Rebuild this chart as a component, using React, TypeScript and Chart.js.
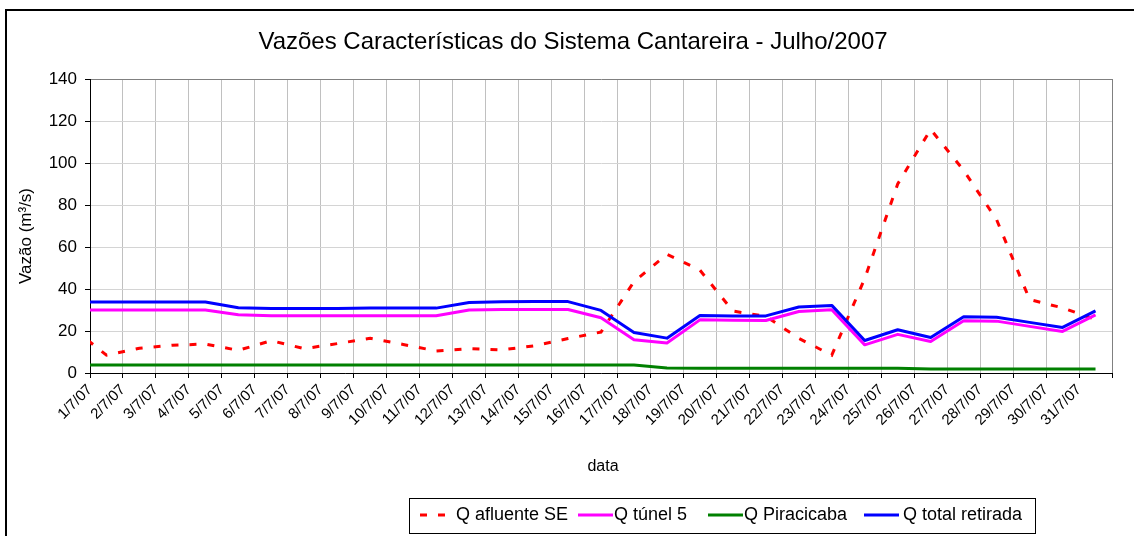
import React, { useEffect, useRef } from "react";
import { Chart, registerables } from "chart.js";

Chart.register(...registerables);

// Tick labels of the category (date) axis
const dateLabels = [
  "1/7/07", "2/7/07", "3/7/07", "4/7/07", "5/7/07", "6/7/07", "7/7/07", "8/7/07",
  "9/7/07", "10/7/07", "11/7/07", "12/7/07", "13/7/07", "14/7/07", "15/7/07", "16/7/07",
  "17/7/07", "18/7/07", "19/7/07", "20/7/07", "21/7/07", "22/7/07", "23/7/07", "24/7/07",
  "25/7/07", "26/7/07", "27/7/07", "28/7/07", "29/7/07", "30/7/07", "31/7/07",
];

// Series values: first entry is 30/6/07 (only its segment toward 1/7 shows), then 1/7 .. 31/7
const qAfluenteSE = [
  21, 8.5, 11.8, 13.2, 13.8, 10.8, 15.4, 11.6, 14, 16.5, 13.6, 10.5, 11.6, 11, 13, 16.4,
  19.5, 43.5, 56.5, 49, 29.5, 27, 16.5, 8.5, 45, 90, 116, 96.5, 73, 35, 31, 25.5,
];
const qTunel5 = [
  30, 30, 30, 30, 30, 27.7, 27.3, 27.3, 27.3, 27.3, 27.3, 27.3, 30, 30.2, 30.2, 30.2,
  26.3, 15.8, 14.3, 25.3, 25.1, 25, 29.3, 30.1, 13.4, 18.4, 15, 24.9, 24.7, 22.2, 19.8, 27.7,
];
const qPiracicaba = [
  3.8, 3.8, 3.8, 3.8, 3.8, 3.8, 3.8, 3.8, 3.8, 3.8, 3.8, 3.8, 3.8, 3.8, 3.8, 3.8,
  3.8, 3.8, 2.4, 2.3, 2.3, 2.3, 2.3, 2.3, 2.3, 2.3, 1.9, 1.9, 1.9, 1.9, 1.9, 1.9,
];
const qTotalRetirada = [
  33.8, 33.8, 33.8, 33.8, 33.8, 31.1, 30.7, 30.7, 30.7, 30.9, 30.9, 30.9, 33.6, 33.9, 34, 34,
  29.8, 19.3, 16.6, 27.4, 27.2, 27.2, 31.4, 32.2, 15.5, 20.6, 16.9, 26.8, 26.5, 24.1, 21.7, 29.6,
];

const seriesNames = ["Q afluente SE", "Q túnel 5", "Q Piracicaba", "Q total retirada"];
const seriesColors = ["#ff0000", "#ff00ff", "#008000", "#0000ff"];

const yMin = 0;
const yMax = 140;
const yStep = 20;

const titleText = "Vazões Características do Sistema Cantareira - Julho/2007";
const yTitle = "Vazão (m³/s)";
const xTitle = "data";

const FONT = "'Liberation Sans', Arial, Helvetica, sans-serif";

const toPoints = (vals: number[]) => vals.map((v, i) => ({ x: i - 0.5, y: v }));

const decorPlugin = {
  id: "decor",
  beforeDraw(chart: any) {
    const ctx = chart.ctx;
    ctx.save();
    ctx.fillStyle = "#ffffff";
    ctx.fillRect(0, 0, chart.width, chart.height);
    ctx.restore();
  },
  afterDraw(chart: any) {
    const ctx = chart.ctx;
    ctx.save();
    // outer frame (cropped at right and bottom)
    ctx.strokeStyle = "#000";
    ctx.lineWidth = 2;
    ctx.beginPath();
    ctx.moveTo(6, chart.height);
    ctx.lineTo(6, 10);
    ctx.lineTo(chart.width, 10);
    ctx.stroke();

    ctx.fillStyle = "#000";
    // title
    ctx.font = `24px ${FONT}`;
    ctx.textAlign = "center";
    ctx.textBaseline = "middle";
    ctx.fillText(titleText, 573, 42);

    // axis titles
    ctx.font = `16px ${FONT}`;
    ctx.fillText(xTitle, 603, 467);
    ctx.save();
    ctx.font = `17px ${FONT}`;
    ctx.translate(26, 236);
    ctx.rotate(-Math.PI / 2);
    ctx.fillText(yTitle, 0, 0);
    ctx.restore();

    // legend
    const lx = 409, ly = 498, lw = 626, lh = 35;
    ctx.strokeStyle = "#000";
    ctx.lineWidth = 1;
    ctx.strokeRect(lx + 0.5, ly + 0.5, lw, lh);
    const cy = 515;
    const items = [
      { x0: 420, x1: 445, tx: 456 },
      { x0: 578, x1: 613, tx: 614 },
      { x0: 708, x1: 743, tx: 744 },
      { x0: 864, x1: 899, tx: 903 },
    ];
    items.forEach((it, i) => {
      ctx.strokeStyle = seriesColors[i];
      ctx.lineWidth = 3;
      ctx.lineCap = "butt";
      ctx.setLineDash(i === 0 ? [7, 11] : []);
      ctx.beginPath();
      ctx.moveTo(it.x0, cy);
      ctx.lineTo(it.x1, cy);
      ctx.stroke();
      ctx.setLineDash([]);
      ctx.fillStyle = "#000";
      ctx.font = `18px ${FONT}`;
      ctx.textAlign = "left";
      ctx.textBaseline = "middle";
      ctx.fillText(seriesNames[i], it.tx, cy);
    });
    ctx.restore();
  },
};

export default function App() {
  const canvasRef = useRef<HTMLCanvasElement | null>(null);

  useEffect(() => {
    document.body.style.margin = "0";
    const canvas = canvasRef.current;
    if (!canvas) return;
    const all = [qAfluenteSE, qTunel5, qPiracicaba, qTotalRetirada];
    const chart = new Chart(canvas, {
      type: "line",
      data: {
        datasets: all.map((vals, i) => ({
          label: seriesNames[i],
          data: toPoints(vals),
          borderColor: seriesColors[i],
          backgroundColor: seriesColors[i],
          borderWidth: 3,
          borderDash: i === 0 ? [7, 11] : [],
          borderCapStyle: "butt",
          borderJoinStyle: i === 0 ? "miter" : "round",
          pointRadius: 0,
          pointHoverRadius: 0,
          tension: 0,
          fill: false,
          clip: 0,
          order: 3 - i,
        })),
      },
      options: {
        responsive: false,
        maintainAspectRatio: false,
        animation: false,
        events: [],
        layout: { padding: { left: 0, top: 79, right: 22, bottom: 0 } },
        plugins: {
          legend: { display: false },
          title: { display: false },
          tooltip: { enabled: false },
        },
        scales: {
          x: {
            type: "linear",
            min: 0,
            max: dateLabels.length,
            afterBuildTicks: (scale: any) => {
              const t = dateLabels.map((_, i) => ({ value: i }));
              t.push({ value: dateLabels.length });
              scale.ticks = t;
            },
            afterFit: (scale: any) => {
              scale.height = 163;
            },
            ticks: {
              autoSkip: false,
              maxRotation: 45,
              minRotation: 45,
              padding: 3,
              color: "#000",
              font: { family: FONT, size: 15 },
              callback: (v: any) => dateLabels[v] ?? "",
            },
            grid: {
              color: (c: any) => (c.tick && c.tick.value === dateLabels.length ? "#808080" : "#c0c0c0"),
              tickColor: "#000",
              tickLength: 5,
              lineWidth: 1,
            },
            border: { color: "#000", width: 1 },
          },
          y: {
            min: yMin,
            max: yMax,
            afterFit: (scale: any) => {
              scale.width = 90;
            },
            ticks: {
              stepSize: yStep,
              padding: 8,
              color: "#000",
              font: { family: FONT, size: 17 },
            },
            grid: {
              color: (c: any) => (c.tick && c.tick.value === yMax ? "#808080" : "#d4d4d4"),
              tickColor: "#000",
              tickLength: 5,
              lineWidth: 1,
            },
            border: { color: "#000", width: 1 },
          },
        },
      },
      plugins: [decorPlugin],
    } as any);
    return () => chart.destroy();
  }, []);

  return (
    <div style={{ width: 1134, height: 536 }}>
      <canvas ref={canvasRef} width={1134} height={536} style={{ width: 1134, height: 536, display: "block" }} />
    </div>
  );
}
